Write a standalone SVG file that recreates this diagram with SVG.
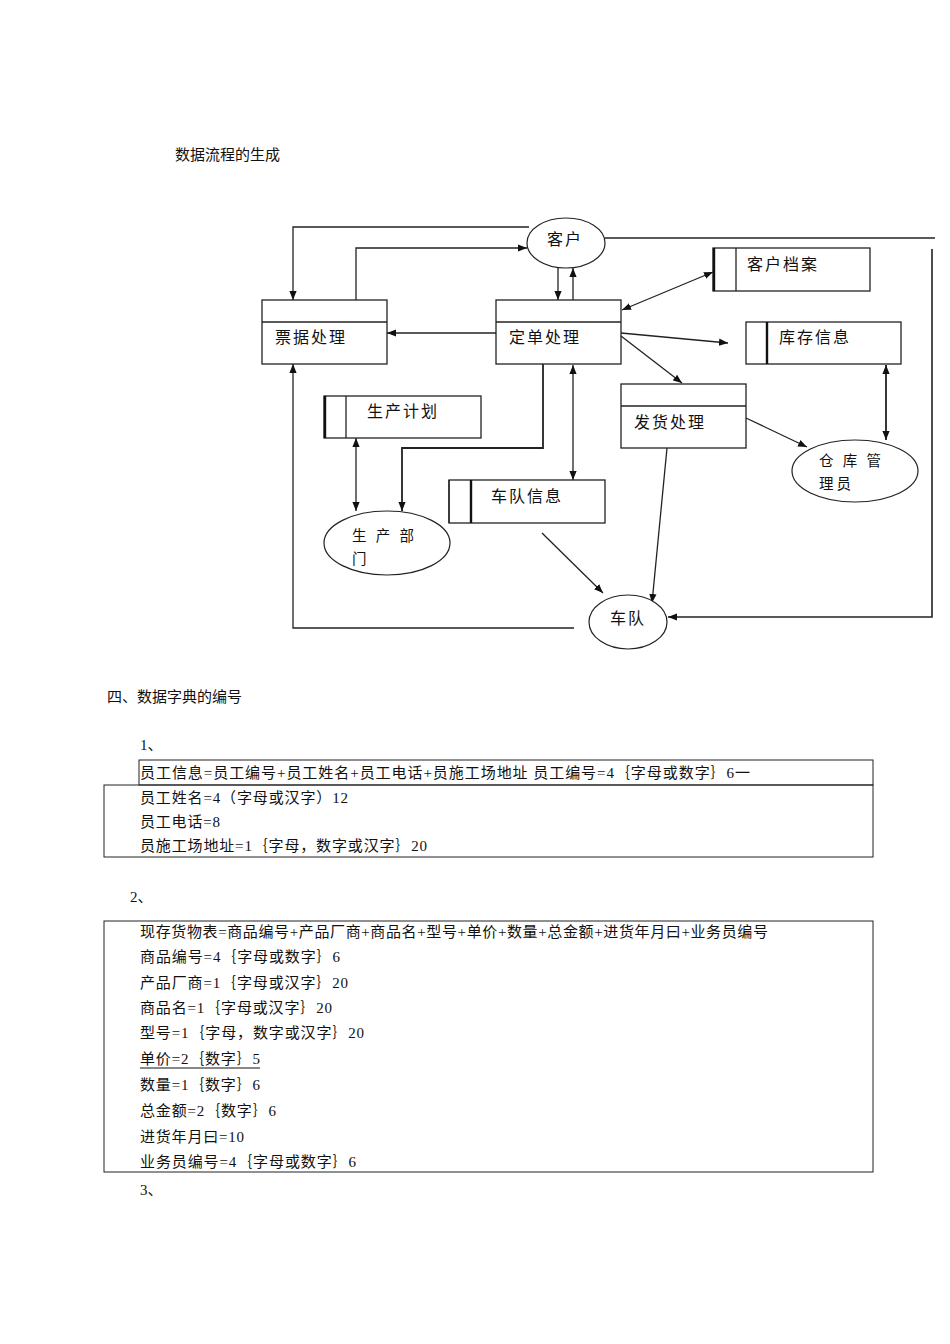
<svg xmlns="http://www.w3.org/2000/svg" width="950" height="1344" viewBox="0 0 950 1344">
<style>
.bg{fill:#fff}
.box{fill:none;stroke:#222;stroke-width:1.3}
.thick{stroke:#111;stroke-width:2.4}
.ell{fill:#fff;stroke:#222;stroke-width:1.2}
.con{fill:none;stroke:#222;stroke-width:1.3}
.lbl{font-family:"Noto Sans CJK SC","Noto Sans",sans-serif;font-size:16px;letter-spacing:2px;fill:#111}
.lbl2{font-family:"Noto Sans CJK SC","Noto Sans",sans-serif;font-size:14.5px;letter-spacing:3px;fill:#111}
.doc{font-family:"Liberation Serif","Noto Sans CJK SC",serif;font-size:15px;fill:#111}
.tbl{fill:none;stroke:#222;stroke-width:1}
</style>
<defs>
<marker id="ah" viewBox="0 0 10 10" refX="10" refY="5" markerWidth="9" markerHeight="9" markerUnits="userSpaceOnUse" orient="auto-start-reverse">
<path d="M0,1 L10,5 L0,9 z" fill="#111"/>
</marker>
</defs>
<rect class="bg" x="0" y="0" width="950" height="1344"/>

<text class="doc" x="175" y="160">数据流程的生成</text>

<g id="connectors">
<polyline class="con" points="529,227 293,227 293,300" marker-end="url(#ah)"/>
<polyline class="con" points="356,300 356,248 527,248" marker-end="url(#ah)"/>
<line class="con" x1="558" y1="267" x2="558" y2="300" marker-end="url(#ah)"/>
<line class="con" x1="573" y1="300" x2="573" y2="268" marker-end="url(#ah)"/>
<line class="con" x1="496" y1="333" x2="387" y2="333" marker-end="url(#ah)"/>
<polyline class="con" points="543,364 543,448 402,448 402,511" marker-end="url(#ah)" style="stroke-width:1.8"/>
<line class="con" x1="573" y1="365" x2="573" y2="480" marker-start="url(#ah)" marker-end="url(#ah)"/>
<polyline class="con" points="574,628 293,628 293,364" marker-end="url(#ah)"/>
<line class="con" x1="356" y1="438" x2="356" y2="511" marker-start="url(#ah)" marker-end="url(#ah)"/>
<line class="con" x1="542" y1="533" x2="603" y2="593" marker-end="url(#ah)"/>
<line class="con" x1="667" y1="448" x2="652" y2="603" marker-end="url(#ah)"/>
<line class="con" x1="746" y1="418" x2="807" y2="447" marker-end="url(#ah)"/>
<line class="con" x1="886" y1="365" x2="886" y2="440" marker-start="url(#ah)" marker-end="url(#ah)" style="stroke-width:1.8"/>
<line class="con" x1="622" y1="310" x2="713" y2="272" marker-start="url(#ah)" marker-end="url(#ah)"/>
<line class="con" x1="621" y1="333" x2="728" y2="343" marker-end="url(#ah)"/>
<line class="con" x1="621" y1="336" x2="682" y2="383" marker-end="url(#ah)"/>
<line class="con" x1="605" y1="238" x2="935" y2="238"/>
<polyline class="con" points="932,249 932,617 668,617" marker-end="url(#ah)" style="stroke-width:1.6"/>
</g>

<g id="n-kehu">
<ellipse class="ell" cx="566" cy="243" rx="39" ry="25"/>
<text class="lbl" x="547" y="245">客户</text>
</g>

<g id="n-piaoju">
<rect class="box" x="262" y="300" width="125" height="64"/>
<line class="box" x1="262" y1="322" x2="387" y2="322"/>
<text class="lbl" x="275" y="343">票据处理</text>
</g>

<g id="n-dingdan">
<rect class="box" x="496" y="300" width="125" height="64"/>
<line class="box" x1="496" y1="322" x2="621" y2="322"/>
<text class="lbl" x="509" y="343">定单处理</text>
</g>

<g id="n-kehudangan">
<rect class="box" x="713" y="248" width="157" height="43"/>
<line class="thick" x1="714" y1="248" x2="714" y2="291"/>
<line class="box" x1="736" y1="248" x2="736" y2="291"/>
<text class="lbl" x="747" y="270">客户档案</text>
</g>

<g id="n-kucun">
<rect class="box" x="746" y="322" width="155" height="42"/>
<line class="thick" x1="767" y1="322" x2="767" y2="364"/>
<text class="lbl" x="779" y="343">库存信息</text>
</g>

<g id="n-fahuo">
<rect class="box" x="621" y="384" width="125" height="64"/>
<line class="box" x1="621" y1="406" x2="746" y2="406"/>
<text class="lbl" x="634" y="428">发货处理</text>
</g>

<g id="n-shengchanjihua">
<rect class="box" x="324" y="396" width="157" height="42"/>
<line class="thick" x1="325" y1="396" x2="325" y2="438"/>
<line class="box" x1="346" y1="396" x2="346" y2="438"/>
<text class="lbl" x="367" y="417">生产计划</text>
</g>

<g id="n-chedui-info">
<rect class="box" x="449" y="480" width="156" height="43"/>
<line class="box" x1="449" y1="480" x2="449" y2="523"/>
<line class="thick" x1="471" y1="480" x2="471" y2="523"/>
<text class="lbl" x="491" y="502">车队信息</text>
</g>

<g id="n-cangku">
<ellipse class="ell" cx="855" cy="471" rx="63" ry="31"/>
<text class="lbl2" x="819" y="466">仓 库 管</text>
<text class="lbl2" x="819" y="488.5">理员</text>
</g>

<g id="n-shengchanbumen">
<ellipse class="ell" cx="387" cy="543" rx="63" ry="32"/>
<text class="lbl2" x="352" y="541">生 产 部</text>
<text class="lbl2" x="352" y="563.5">门</text>
</g>

<g id="n-chedui">
<ellipse class="ell" cx="628" cy="622" rx="39" ry="27"/>
<text class="lbl" x="610" y="624">车队</text>
</g>

<text class="doc" x="107" y="702">四、数据字典的编号</text>
<text class="doc" x="140" y="750">1、</text>

<rect class="tbl" x="139" y="760" width="734" height="25"/>
<rect class="tbl" x="104" y="785" width="769" height="72"/>
<text class="doc" x="140" y="778" textLength="610" lengthAdjust="spacing">员工信息=员工编号+员工姓名+员工电话+员施工场地址  员工编号=4｛字母或数字｝6一</text>
<text class="doc" x="140" y="803" textLength="208" lengthAdjust="spacing">员工姓名=4（字母或汉字）12</text>
<text class="doc" x="140" y="827" textLength="80" lengthAdjust="spacing">员工电话=8</text>
<text class="doc" x="140" y="851" textLength="287" lengthAdjust="spacing">员施工场地址=1｛字母，数字或汉字｝20</text>

<text class="doc" x="130" y="902">2、</text>

<rect class="tbl" x="104" y="921" width="769" height="251"/>
<text class="doc" x="140" y="937" textLength="628" lengthAdjust="spacing">现存货物表=商品编号+产品厂商+商品名+型号+单价+数量+总金额+进货年月曰+业务员编号</text>
<text class="doc" x="140" y="962" textLength="200" lengthAdjust="spacing">商品编号=4｛字母或数字｝6</text>
<text class="doc" x="140" y="988" textLength="208" lengthAdjust="spacing">产品厂商=1｛字母或汉字｝20</text>
<text class="doc" x="140" y="1013" textLength="192" lengthAdjust="spacing">商品名=1｛字母或汉字｝20</text>
<text class="doc" x="140" y="1038" textLength="224" lengthAdjust="spacing">型号=1｛字母，数字或汉字｝20</text>
<text class="doc" x="140" y="1064" textLength="120" lengthAdjust="spacing">单价=2｛数字｝5</text>
<line x1="140" y1="1068" x2="260" y2="1068" stroke="#111" stroke-width="1"/>
<text class="doc" x="140" y="1090" textLength="120" lengthAdjust="spacing">数量=1｛数字｝6</text>
<text class="doc" x="140" y="1116" textLength="136" lengthAdjust="spacing">总金额=2｛数字｝6</text>
<text class="doc" x="140" y="1142" textLength="104" lengthAdjust="spacing">进货年月曰=10</text>
<text class="doc" x="140" y="1167" textLength="216" lengthAdjust="spacing">业务员编号=4｛字母或数字｝6</text>

<text class="doc" x="140" y="1195">3、</text>
</svg>
